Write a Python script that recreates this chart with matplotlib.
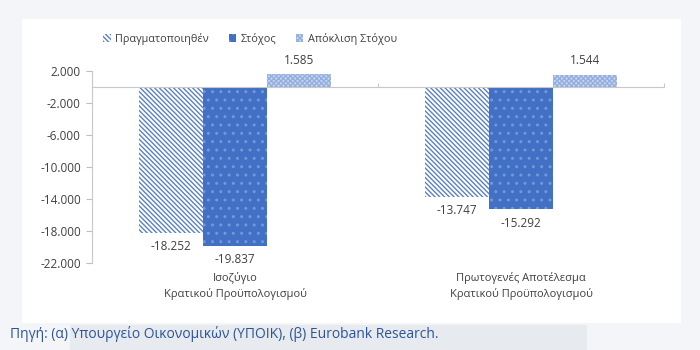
import matplotlib
matplotlib.use("Agg")
import matplotlib.pyplot as plt
from matplotlib.patches import Rectangle, Patch
from matplotlib.ticker import FuncFormatter
import numpy as np

plt.rcParams["font.family"] = ["Open Sans", "DejaVu Sans"]
plt.rcParams["hatch.linewidth"] = 1.0

categories = ["Ισοζύγιο\nΚρατικού Προϋπολογισμού",
              "Πρωτογενές Αποτέλεσμα\nΚρατικού Προϋπολογισμού"]
series_names = ["Πραγματοποιηθέν", "Στόχος", "Απόκλιση Στόχου"]
realized = [-18252, -13747]
target = [-19837, -15292]
deviation = [1585, 1544]
y_ticks = [2000, -2000, -6000, -10000, -14000, -18000, -22000]
source_note = "Πηγή: (α) Υπουργείο Οικονομικών (ΥΠΟΙΚ), (β) Eurobank Research."

W, H = 700, 350
fig = plt.figure(figsize=(7, 3.5), dpi=100, facecolor="#f3f5f9")

# white card behind the chart and grey strip behind the source line
fig.patches.append(Rectangle((22 / W, 1 - 323 / H), 659 / W, 304 / H,
                             transform=fig.transFigure, facecolor="white",
                             edgecolor="none", zorder=-2))
fig.patches.append(Rectangle((70 / W, 0), 517 / W, 25 / H,
                             transform=fig.transFigure, facecolor="#e7eaee",
                             edgecolor="none", zorder=-2))

ax = fig.add_axes([92 / W, 1 - 263 / H, 572 / W, 192 / H])
ax.set_facecolor("none")
ax.set_zorder(1)

styles = [
    dict(facecolor="white", edgecolor="#5a80c8", hatch="\\\\\\\\\\\\\\"),
    dict(facecolor="#4170c4", edgecolor="#7497d9", hatch=".."),
    dict(facecolor="#c9d7ef", edgecolor="#94afdf", hatch="xxxxxxx"),
]
series = [realized, target, deviation]
x = np.arange(len(categories))
bw = 0.224
offsets = [-bw, 0, bw]
for vals, st, off in zip(series, styles, offsets):
    bars = ax.bar(x + off, vals, width=bw, linewidth=0, zorder=2, **st)
    for b, v in zip(bars, vals):
        label = f"{v:,}".replace(",", ".")
        dy = 10 if v > 0 else -10
        ax.annotate(label, (b.get_x() + b.get_width() / 2, v),
                    xytext=(0, dy), textcoords="offset points",
                    ha="center", va="center", fontsize=8.5, color="#404040")

ax.set_xlim(-0.5, 1.5)
ax.set_ylim(-22000, 2000)
ax.set_yticks(y_ticks)
ax.yaxis.set_major_formatter(FuncFormatter(lambda v, p: f"{int(v):,}".replace(",", ".")))
ax.tick_params(axis="y", length=4, color="#bfbfbf", labelsize=8.5,
               labelcolor="#404040", pad=4)
for s in ["top", "right"]:
    ax.spines[s].set_visible(False)
ax.spines["left"].set_color("#c8c8c8")
ax.spines["left"].set_linewidth(0.8)
ax.spines["bottom"].set_position(("data", 0))
ax.spines["bottom"].set_color("#c8c8c8")
ax.spines["bottom"].set_linewidth(0.8)
ax.spines["bottom"].set_zorder(3)
ax.set_xticks([0.5, 1.5])
ax.set_xticklabels([])
ax.tick_params(axis="x", length=3, direction="in", color="#c8c8c8")

for xi, cat in zip(x, categories):
    ax.text(xi, -0.047, cat, transform=ax.get_xaxis_transform(),
            ha="center", va="top", fontsize=8, color="#404040",
            linespacing=1.45)

handles = [Patch(linewidth=0, **st) for st in styles]
fig.legend(handles, series_names, loc="center", bbox_to_anchor=(250 / W, 1 - 39 / H),
           ncol=3, frameon=False, fontsize=7.8, handlelength=0.7,
           handleheight=0.7, handletextpad=0.4, columnspacing=1.8,
           labelcolor="#404040")

fig.text(10 / W, 1 - 334 / H, source_note, ha="left", va="center",
         fontsize=10, color="#2c5597")

fig.savefig("out.png", dpi=100, facecolor=fig.get_facecolor())
